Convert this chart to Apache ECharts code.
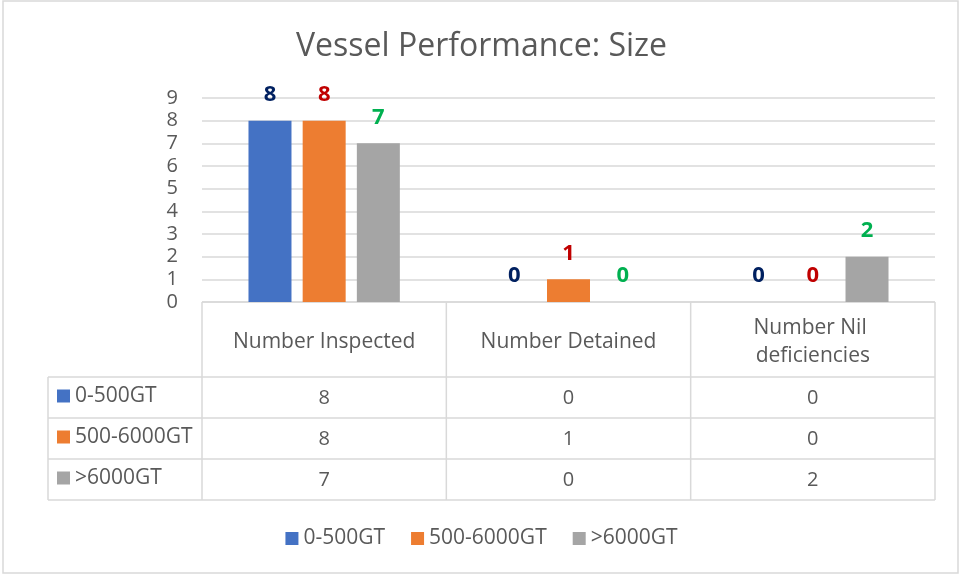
<!DOCTYPE html>
<html>
<head>
<meta charset="utf-8">
<script src="https://cdn.jsdelivr.net/npm/echarts@6/dist/echarts.min.js"></script>
<style>
  html, body { margin: 0; padding: 0; background: #fff; }
  #chart { width: 963px; height: 575px; }
</style>
</head>
<body>
<div id="chart"></div>
<script>
// 数据
const categories = ['Number Inspected', 'Number Detained', 'Number Nil deficiencies'];
const seriesNames = ['0-500GT', '500-6000GT', '>6000GT'];
const small = [8, 0, 0];
const medium = [8, 1, 0];
const large = [7, 0, 2];
const yTicks = [0, 1, 2, 3, 4, 5, 6, 7, 8, 9];

const seriesData = [small, medium, large];
const barColors = ['#4472C4', '#ED7D31', '#A5A5A5'];
const labelColors = ['#002060', '#C00000', '#00B050'];
const textColor = '#595959';
const lineColor = '#d9d9d9';
const font = '"Open Sans", "Noto Sans", sans-serif';

// 布局
const W = 963, H = 575;
const plotL = 202, plotR = 935, plotT = 98, plotB = 302;
const headerH = 75, rowH = 41, tableL = 48;

const buildTable = () => {
  const els = [];
  const colW = (plotR - plotL) / categories.length;
  const line = (x1, y1, x2, y2) => ({
    type: 'line', silent: true,
    shape: { x1, y1, x2, y2 },
    style: { stroke: lineColor, lineWidth: 1.5 }
  });
  const tableB = plotB + headerH + rowH * seriesNames.length;
  // 横线
  els.push(line(plotL, plotB, plotR, plotB));
  for (let r = 0; r <= seriesNames.length; r++) {
    const y = plotB + headerH + r * rowH;
    els.push(line(tableL, y, plotR, y));
  }
  // 竖线
  els.push(line(tableL, plotB + headerH, tableL, tableB));
  for (let c = 0; c <= categories.length; c++) {
    const x = plotL + c * colW;
    els.push(line(x, plotB, x, tableB));
  }
  // 行标题和数值
  seriesNames.forEach((name, r) => {
    const cy = plotB + headerH + r * rowH + rowH / 2;
    els.push({
      type: 'rect', silent: true,
      shape: { x: 57, y: cy - 8, width: 13, height: 13 },
      style: { fill: barColors[r] }
    });
    els.push({
      type: 'text', silent: true,
      x: 75, y: cy - 1,
      style: { text: name, fill: textColor, font: '21px ' + font, verticalAlign: 'middle', align: 'left' }
    });
    seriesData[r].forEach((v, c) => {
      els.push({
        type: 'text', silent: true,
        x: plotL + c * colW + colW / 2, y: cy + 1,
        style: { text: String(v), fill: textColor, font: '20px ' + font, verticalAlign: 'middle', align: 'center' }
      });
    });
  });
  // 外框
  els.push({
    type: 'rect', silent: true,
    shape: { x: 3, y: 1, width: 955, height: 572 },
    style: { fill: 'none', stroke: lineColor, lineWidth: 1.5 }
  });
  return els;
};

const chart = echarts.init(document.getElementById('chart'));
chart.setOption({
  animation: false,
  backgroundColor: '#fff',
  title: {
    text: 'Vessel Performance: Size',
    left: 'center',
    top: 26,
    textStyle: { color: textColor, fontSize: 32, fontWeight: 'normal', fontFamily: font }
  },
  legend: {
    data: seriesNames,
    bottom: 21,
    left: 'center',
    icon: 'rect',
    itemWidth: 13,
    itemHeight: 13,
    itemGap: 26,
    textStyle: { color: textColor, fontSize: 21, fontFamily: font }
  },
  grid: { left: plotL, right: W - plotR, top: plotT, bottom: H - plotB },
  xAxis: {
    type: 'category',
    data: categories,
    axisLine: { show: false },
    axisTick: { show: false },
    axisLabel: {
      interval: 0,
      color: textColor,
      fontSize: 21,
      fontFamily: font,
      margin: 40,
      verticalAlign: 'middle',
      width: 200,
      overflow: 'break',
      lineHeight: 28
    }
  },
  yAxis: {
    type: 'value',
    min: yTicks[0],
    max: yTicks[yTicks.length - 1],
    interval: 1,
    axisLine: { show: false },
    axisTick: { show: false },
    axisLabel: { color: textColor, fontSize: 20, fontFamily: font, margin: 24 },
    splitLine: { lineStyle: { color: lineColor, width: 1.5 } }
  },
  series: seriesNames.map((name, i) => ({
    name,
    type: 'bar',
    data: seriesData[i],
    barWidth: 43,
    barGap: '26%',
    itemStyle: { color: barColors[i] },
    label: {
      show: true,
      position: 'top',
      distance: 15,
      color: labelColors[i],
      fontSize: 22,
      fontWeight: 'bold',
      fontFamily: font
    }
  })),
  graphic: buildTable()
});
</script>
</body>
</html>
